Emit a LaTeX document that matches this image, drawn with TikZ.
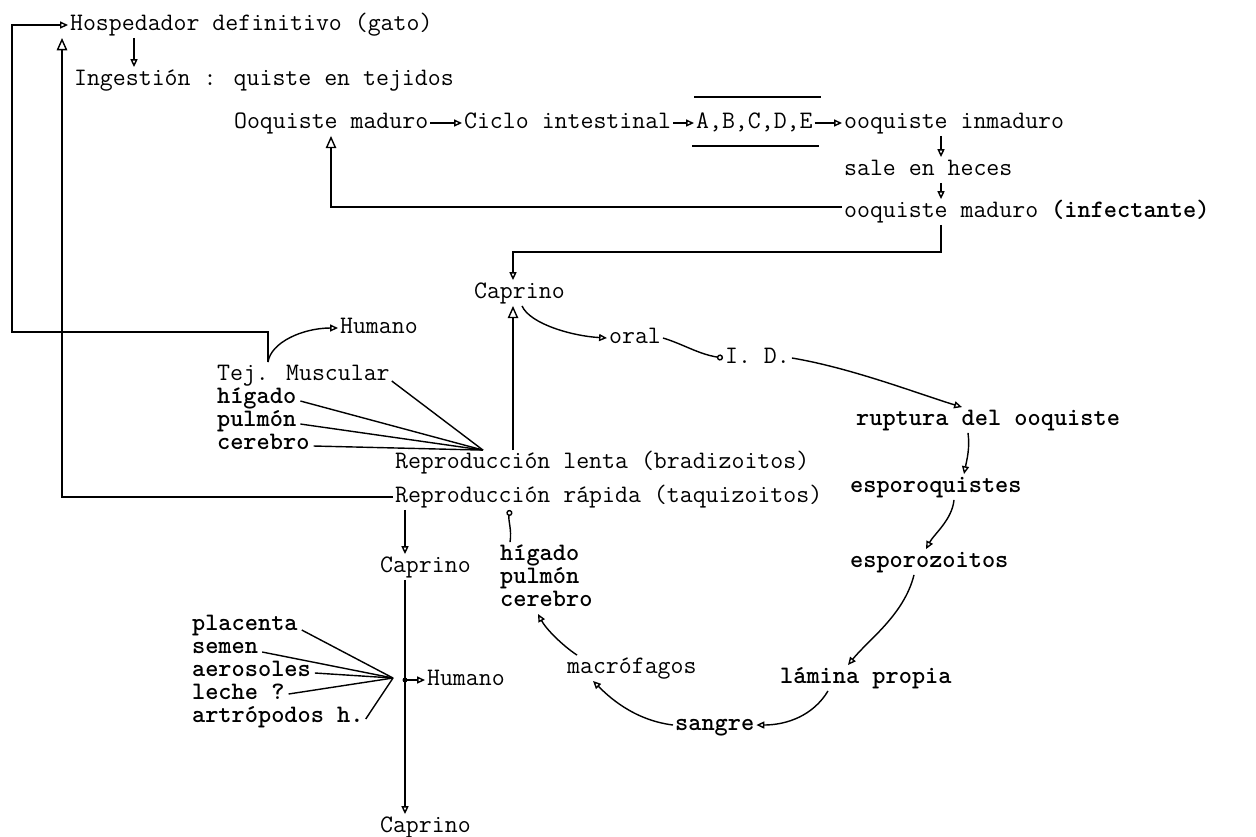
\documentclass[tikz,border=0pt]{standalone}
\usepackage{fontspec}
\usetikzlibrary{arrows.meta,calc}

\begin{document}
\begin{tikzpicture}[x=0.2mm,y=-0.2mm,
  every node/.style={anchor=west,inner sep=1pt,text height=9.5pt,text depth=2.8pt,font=\ttfamily\fontsize{14.3}{16}\selectfont},
  boldtxt/.style={font=\ttfamily\bfseries\fontsize{14.3}{16}\selectfont},
  con/.style={line width=0.8pt},
  tip/.style={con,-{Triangle[open,length=4.5pt,width=4pt]}},
  bigtip/.style={con,-{Triangle[open,length=7pt,width=6pt]}},
  otip/.style={con,-{Circle[open,length=3.5pt]}}]
\useasboundingbox (0,0) rectangle (1256,836);

\node (hosp) at (68,25) {Hospedador definitivo (gato)};
\node (ingest) at (72,80) {Ingestión : quiste en tejidos};
\node (ooqmad) at (232,123) {Ooquiste maduro};
\node (ciclo) at (462,123) {Ciclo intestinal};
\node (abc) at (694,123) {A,B,C,D,E};
\node (ooqinm) at (842,123) {ooquiste inmaduro};
\node (heces) at (842,170) {sale en heces};
\node (ooqinf) at (842,212) {ooquiste maduro \textbf{(infectante)}};
\node (cap1) at (472,293) {Caprino};
\node (humano1) at (338,328) {Humano};
\node (oral) at (607,338) {oral};
\node (id) at (723,358) {I. D.};
\node (tej) at (215,375) {Tej. Muscular};
\node[boldtxt] (hig1) at (215,398) {hígado};
\node[boldtxt] (pul1) at (215,421) {pulmón};
\node[boldtxt] (cer1) at (215,444) {cerebro};
\node[boldtxt] (rupt) at (854,420) {ruptura del ooquiste};
\node (rlenta) at (393,463) {Reproducción lenta (bradizoitos)};
\node (rrapida) at (393,497) {Reproducción rápida (taquizoitos)};
\node[boldtxt] (espq) at (848,487) {esporoquistes};
\node[boldtxt] (hig2) at (498,555) {hígado};
\node[boldtxt] (pul2) at (498,578) {pulmón};
\node[boldtxt] (cer2) at (498,601) {cerebro};
\node[boldtxt] (espz) at (848,562) {esporozoitos};
\node (cap2) at (378,567) {Caprino};
\node[boldtxt] (placenta) at (190,625) {placenta};
\node[boldtxt] (semen) at (190,648) {semen};
\node[boldtxt] (aeros) at (190,671) {aerosoles};
\node[boldtxt] (leche) at (190,694) {leche ?};
\node[boldtxt] (artro) at (190,717) {artrópodos h.};
\node (macro) at (565,668) {macrófagos};
\node[boldtxt] (lamina) at (778,678) {lámina propia};
\node (humano2) at (425,680) {Humano};
\node[boldtxt] (sangre) at (673,725) {sangre};
\node (cap3) at (378,827) {Caprino};

\coordinate (outer) at (12,332);
\coordinate (innertop) at (62,38);
\coordinate (capline) at (513,252);
\coordinate (tejtop) at ($(tej.north west)+(53,0)$);
\coordinate (conv1) at ($(rlenta.north west)+(90,0)$);

\draw[tip] (tejtop) |- (outer) |- (hosp.west);
\draw[bigtip] (rrapida.west) -| (innertop);
\draw[tip] ($(hosp.south west)+(66,0)$) coordinate (h1) -- (h1 |- ingest.north);

\draw[tip] (ooqmad.east) -- (ciclo.west);
\draw[tip] (ciclo.east) -- (abc.west);
\draw[tip] (abc.east) -- (ooqinm.west);
\draw[con] ($(abc.north west)+(0,-13)$) -- ($(abc.north east)+(6,-13)$);
\draw[con] ($(abc.south west)+(-2,10)$) -- ($(abc.south east)+(4,10)$);

\draw[tip] ($(ooqinm.south west)+(99,0)$) coordinate (v1) -- (v1 |- heces.north);
\draw[tip] (v1 |- heces.south) -- (v1 |- ooqinf.north);
\draw[tip] (v1 |- ooqinf.south) |- (capline) -- (capline |- cap1.north);
\draw[bigtip] ($(ooqinf.west)+(0,-5)$) -| ($(ooqmad.south west)+(99,0)$);

\draw[tip] ($(cap1.south west)+(50,0)$) .. controls +(8,18) and +(-35,-2) .. (oral.west);
\draw[otip] (oral.east) .. controls +(20,6) and +(-25,-4) .. (id.west);
\draw[tip] (id.east) .. controls +(60,10) and +(-40,-12) .. ($(rupt.north west)+(108,0)$);
\draw[tip] ($(rupt.south west)+(114,0)$) .. controls +(2,15) and +(3,-15) .. ($(espq.north west)+(116,0)$);
\draw[tip] ($(espq.south west)+(106,0)$) .. controls +(-2,20) and +(8,-15) .. ($(espz.north west)+(78,0)$);
\draw[tip] ($(espz.south west)+(66,0)$) .. controls +(-10,40) and +(20,-25) .. ($(lamina.north west)+(70,0)$);
\draw[tip] ($(lamina.south west)+(50,0)$) .. controls +(-15,25) and +(30,0) .. (sangre.east);
\draw[tip] (sangre.west) .. controls +(-40,-5) and +(15,15) .. ($(macro.south west)+(28,0)$);
\draw[tip] ($(macro.north west)+(12,0)$) .. controls +(-15,-10) and +(8,15) .. ($(cer2.south west)+(40,0)$);
\draw[otip] ($(hig2.north west)+(12,0)$) .. controls +(2,-12) and +(-2,10) .. ($(rrapida.south west)+(117,0)$);

\draw[bigtip] ($(rlenta.north west)+(120,0)$) coordinate (v2) -- (v2 |- cap1.south);
\draw[tip] (tejtop) .. controls +(3,-20) and +(-35,0) .. (humano1.west);
\draw[con] ($(tej.east)+(0,6)$) -- (conv1);
\draw[con] ($(hig1.east)+(2,3)$) -- (conv1);
\draw[con] ($(pul1.east)+(2,3)$) -- (conv1);
\draw[con] ($(cer1.east)+(2,2)$) -- (conv1);

\draw[tip] ($(rrapida.south west)+(12,0)$) coordinate (v3) -- (v3 |- cap2.north);
\draw[tip] (v3 |- cap2.south) -- (v3 |- cap3.north);
\coordinate (hum2dot) at (v3 |- humano2.west);
\coordinate (conv2) at ($(hum2dot)+(-12,-2)$);
\fill (hum2dot) circle (2.5);
\draw[tip] (hum2dot) -- (humano2.west);
\draw[con] ($(placenta.east)+(2,5)$) -- (conv2);
\draw[con] ($(semen.east)+(2,4)$) -- (conv2);
\draw[con] ($(aeros.east)+(2,2)$) -- (conv2);
\draw[con] ($(leche.east)+(2,0)$) -- (conv2);
\draw[con] ($(artro.east)+(0,2)$) -- (conv2);
\end{tikzpicture}
\end{document}
